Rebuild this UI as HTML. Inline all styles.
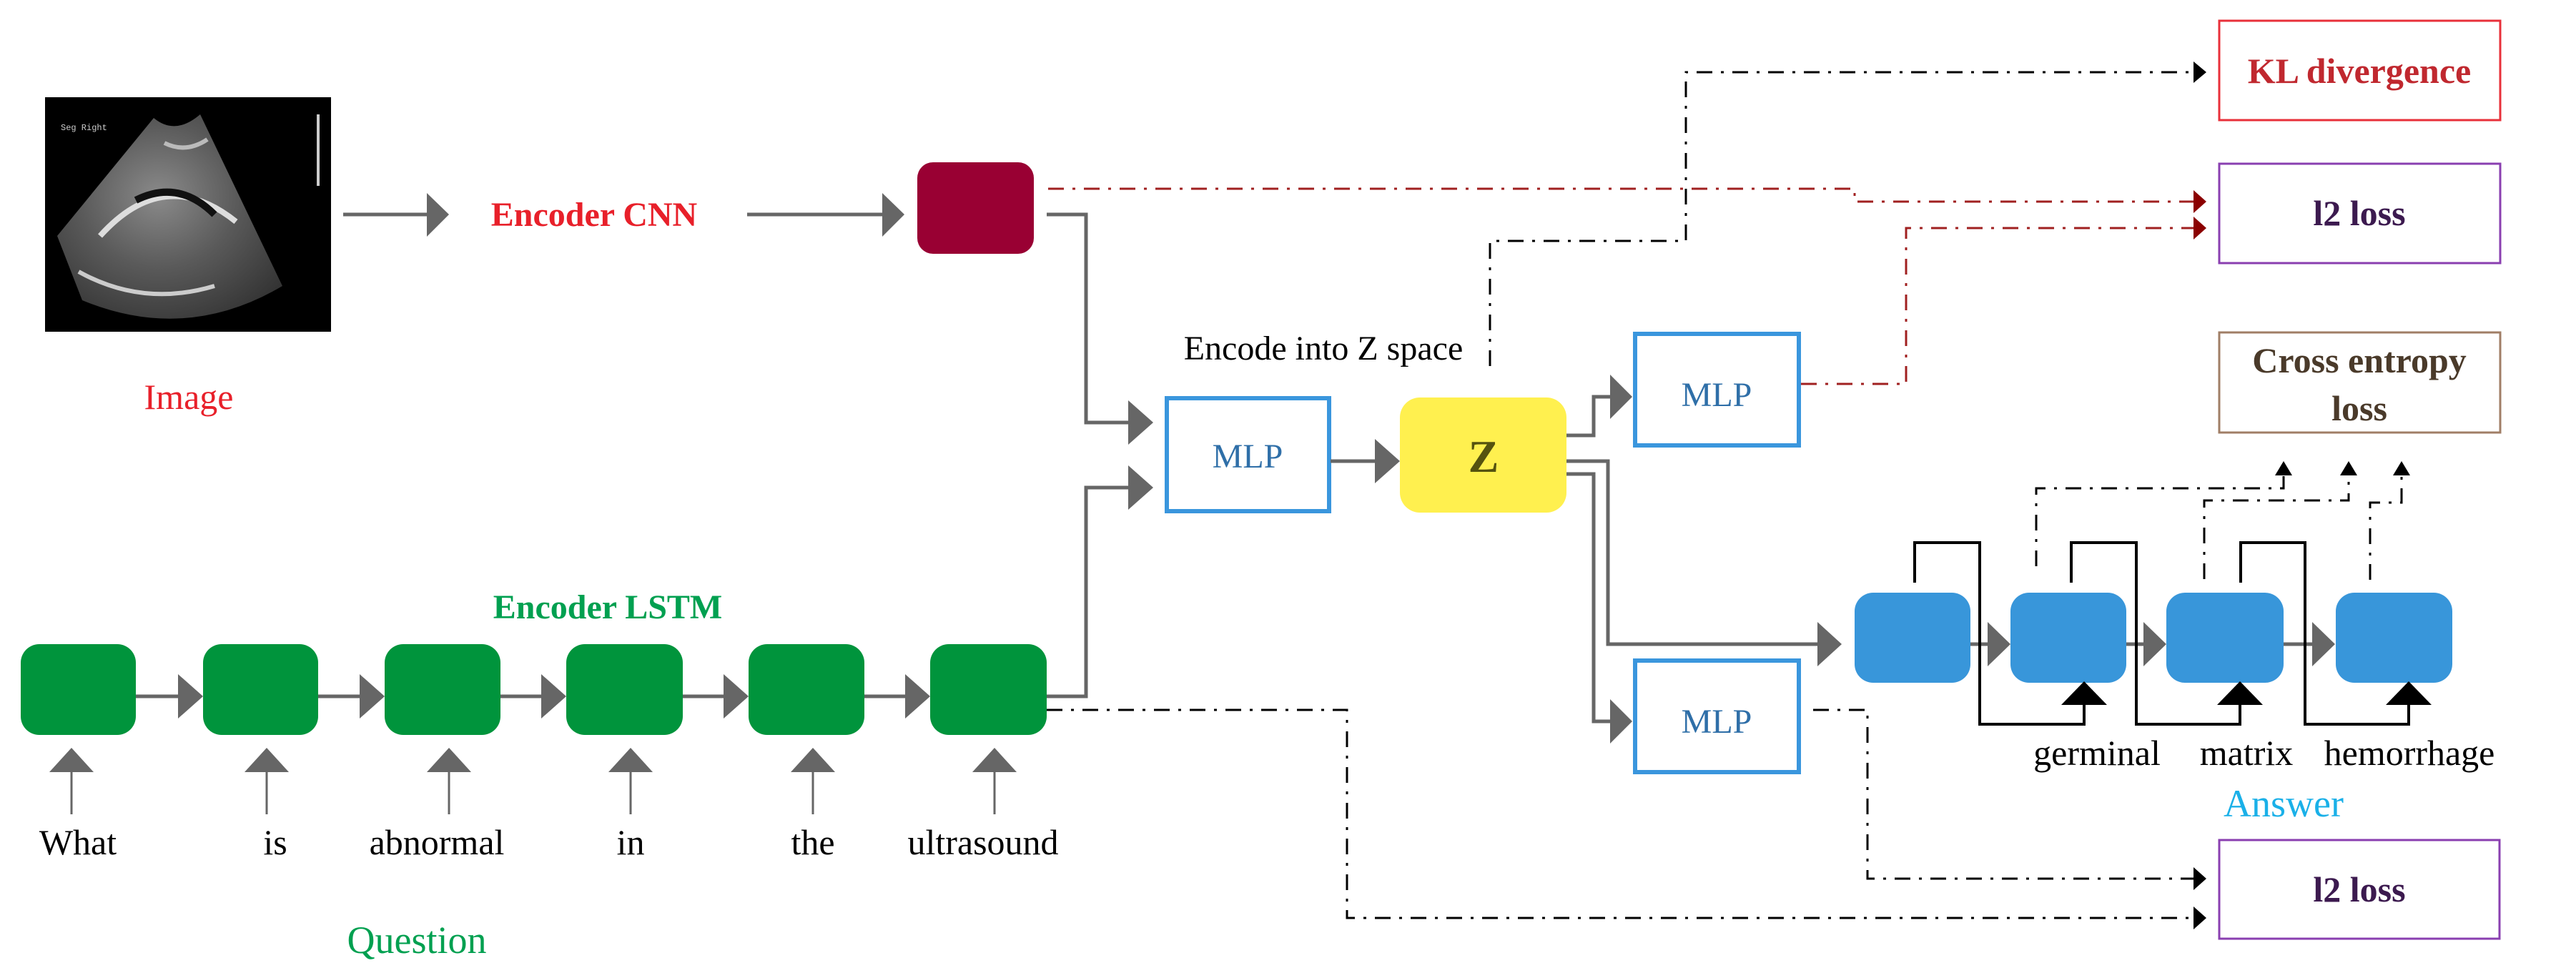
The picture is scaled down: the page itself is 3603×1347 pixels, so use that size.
<!DOCTYPE html>
<html><head><meta charset="utf-8"><style>
html,body{margin:0;padding:0;background:#fff}
svg{display:block}
</style></head><body>
<svg width="3603" height="1347" viewBox="0 0 3603 1347" xmlns="http://www.w3.org/2000/svg" font-family="'Liberation Serif', 'Times New Roman', serif" style="font-family:'Liberation Serif','Times New Roman',serif">
<defs>
<radialGradient id="us" cx="0.45" cy="0.4" r="0.7">
<stop offset="0" stop-color="#8a8a8a"/><stop offset="0.5" stop-color="#5a5a5a"/><stop offset="1" stop-color="#333"/>
</radialGradient>
</defs>
<!-- ultrasound image -->
<rect x="63" y="136" width="400" height="328" fill="#000"/>
<path d="M215,165 Q245,190 280,160 L395,400 Q260,480 115,420 L80,330 Z" fill="url(#us)"/>
<path d="M140,330 Q230,230 330,310" stroke="#ddd" stroke-width="8" fill="none"/>
<path d="M190,280 Q250,250 300,300" stroke="#111" stroke-width="10" fill="none"/>
<path d="M110,380 Q200,430 300,400" stroke="#ccc" stroke-width="6" fill="none"/>
<path d="M230,200 Q260,215 290,195" stroke="#bbb" stroke-width="6" fill="none"/>
<text x="85" y="182" font-size="12" fill="#ccc" font-family="Liberation Mono">Seg  Right</text>
<rect x="443" y="160" width="4" height="100" fill="#ccc"/>
<text x="264" y="572" font-size="50" fill="#e8202a" text-anchor="middle">Image</text>
<!-- arrow image -> encoder -->
<line x1="480" y1="300" x2="600" y2="300" stroke="#666" stroke-width="5"/>
<path d="M597,270 L628,300 L597,331 Z" fill="#666"/>
<text x="831" y="316" font-size="48" font-weight="bold" fill="#e8202a" text-anchor="middle">Encoder CNN</text>
<line x1="1045" y1="300" x2="1238" y2="300" stroke="#666" stroke-width="5"/>
<path d="M1234,270 L1265,300 L1234,331 Z" fill="#666"/>
<rect x="1283" y="227" width="163" height="128" rx="22" fill="#990033"/>
<polyline points="1464,300 1519,300 1519,591 1582,591" fill="none" stroke="#666" stroke-width="5"/>
<path d="M1578,560 L1613,591 L1578,622 Z" fill="#666"/>
<polyline points="1464,974 1519,974 1519,682 1582,682" fill="none" stroke="#666" stroke-width="5"/>
<path d="M1578,651 L1613,682 L1578,713 Z" fill="#666"/>
<rect x="1632" y="557" width="227" height="158" fill="#fff" stroke="#3a96dd" stroke-width="6"/>
<text x="1745" y="654" font-size="48" fill="#2f6fa8" text-anchor="middle">MLP</text>
<text x="1851" y="503" font-size="48" fill="#000" text-anchor="middle">Encode into Z space</text>
<line x1="1861" y1="645" x2="1927" y2="645" stroke="#666" stroke-width="5"/>
<path d="M1923,614 L1958,645 L1923,676 Z" fill="#666"/>
<rect x="1958" y="556" width="233" height="161" rx="28" fill="#fff04f"/>
<text x="2075" y="660" font-size="64" font-weight="bold" fill="#55520f" text-anchor="middle">Z</text>
<polyline points="2191,609 2229,609 2229,555 2256,555" fill="none" stroke="#666" stroke-width="5"/>
<path d="M2252,524 L2283,555 L2252,586 Z" fill="#666"/>
<rect x="2287" y="467" width="229" height="156" fill="#fff" stroke="#3a96dd" stroke-width="6"/>
<text x="2401" y="568" font-size="48" fill="#2f6fa8" text-anchor="middle">MLP</text>
<polyline points="2191,645 2249,645 2249,901 2546,901" fill="none" stroke="#666" stroke-width="5"/>
<path d="M2542,870 L2576,901 L2542,932 Z" fill="#666"/>
<polyline points="2191,663 2229,663 2229,1009 2256,1009" fill="none" stroke="#666" stroke-width="5"/>
<path d="M2252,978 L2283,1009 L2252,1040 Z" fill="#666"/>
<rect x="2287" y="924" width="229" height="156" fill="#fff" stroke="#3a96dd" stroke-width="6"/>
<text x="2401" y="1025" font-size="48" fill="#2f6fa8" text-anchor="middle">MLP</text>
<rect x="3104" y="29" width="393" height="139" fill="#fff" stroke="#e8303a" stroke-width="3"/>
<text x="3300" y="116" font-size="50" font-weight="bold" fill="#c0282f" text-anchor="middle">KL divergence</text>
<rect x="3104" y="229" width="393" height="139" fill="#fff" stroke="#8a3fb0" stroke-width="3"/>
<text x="3300" y="315" font-size="50" font-weight="bold" fill="#3c1a4f" text-anchor="middle">l2 loss</text>
<rect x="3104" y="465" width="393" height="140" fill="#fff" stroke="#a07e66" stroke-width="3"/>
<text x="3300" y="521" font-size="50" font-weight="bold" fill="#4a3a2a" text-anchor="middle">Cross entropy</text>
<text x="3300" y="588" font-size="50" font-weight="bold" fill="#4a3a2a" text-anchor="middle">loss</text>
<rect x="3104" y="1175" width="392" height="138" fill="#fff" stroke="#8a3fb0" stroke-width="3"/>
<text x="3300" y="1261" font-size="50" font-weight="bold" fill="#3c1a4f" text-anchor="middle">l2 loss</text>
<g fill="none" stroke-width="3" stroke-dasharray="22,12,4,12">
<polyline points="2084,512 2084,337 2358,337 2358,101 3070,101" stroke="#000"/>
<polyline points="1466,264 2594,264 2594,282 3070,282" stroke="#a02020"/>
<polyline points="2519,537 2666,537 2666,319 3070,319" stroke="#a02020"/>
<polyline points="2536,993 2612,993 2612,1229 3070,1229" stroke="#000"/>
<polyline points="1464,993 1884,993 1884,1284 3070,1284" stroke="#000"/>
<polyline points="2848,792 2848,683 3194,683 3194,665" stroke="#000"/>
<polyline points="3083,810 3083,700 3285,700 3285,665" stroke="#000"/>
<polyline points="3315,811 3315,703 3359,703 3359,665" stroke="#000"/>
</g>
<path d="M3068,86 L3086,101 L3068,116 Z" fill="#000"/>
<path d="M3068,266 L3086,282 L3068,298 Z" fill="#8b0000"/>
<path d="M3068,303 L3086,319 L3068,335 Z" fill="#8b0000"/>
<path d="M3068,1213 L3086,1229 L3068,1245 Z" fill="#000"/>
<path d="M3068,1268 L3086,1284 L3068,1300 Z" fill="#000"/>
<path d="M3182,665 L3194,645 L3206,665 Z" fill="#000"/>
<path d="M3273,665 L3285,645 L3297,665 Z" fill="#000"/>
<path d="M3347,665 L3359,645 L3371,665 Z" fill="#000"/>
<g stroke="#666" stroke-width="5">
<line x1="2755" y1="901" x2="2786" y2="901"/><line x1="2973" y1="901" x2="3004" y2="901"/><line x1="3194" y1="901" x2="3240" y2="901"/>
</g>
<path d="M2780,870 L2812,901 L2780,932 Z" fill="#666"/>
<path d="M2998,870 L3030,901 L2998,932 Z" fill="#666"/>
<path d="M3234,870 L3266,901 L3234,932 Z" fill="#666"/>
<g fill="#3896da">
<rect x="2594" y="829" width="162" height="126" rx="26"/>
<rect x="2812" y="829" width="162" height="126" rx="26"/>
<rect x="3030" y="829" width="164" height="126" rx="26"/>
<rect x="3267" y="829" width="163" height="126" rx="26"/>
</g>
<g fill="none" stroke="#000" stroke-width="4">
<polyline points="2678,815 2678,759 2769,759 2769,1013 2915,1013 2915,984"/>
<polyline points="2897,815 2897,759 2988,759 2988,1013 3133,1013 3133,984"/>
<polyline points="3134,815 3134,759 3224,759 3224,1013 3369,1013 3369,984"/>
</g>
<path d="M2883,986 L2915,953 L2947,986 Z" fill="#000"/>
<path d="M3101,986 L3133,953 L3165,986 Z" fill="#000"/>
<path d="M3337,986 L3369,953 L3401,986 Z" fill="#000"/>
<g font-size="50" fill="#000" text-anchor="middle">
<text x="2933" y="1070">germinal</text>
<text x="3142" y="1070">matrix</text>
<text x="3370" y="1070">hemorrhage</text>
</g>
<text x="3194" y="1142" font-size="54" fill="#1ab0e8" text-anchor="middle">Answer</text>
<text x="850" y="865" font-size="48" font-weight="bold" fill="#00a050" text-anchor="middle">Encoder LSTM</text>
<g stroke="#666" stroke-width="5">
<line x1="189" y1="974" x2="254" y2="974"/><line x1="445" y1="974" x2="508" y2="974"/><line x1="700" y1="974" x2="762" y2="974"/><line x1="955" y1="974" x2="1017" y2="974"/><line x1="1209" y1="974" x2="1271" y2="974"/>
</g>
<g fill="#666">
<path d="M249,943 L284,974 L249,1005 Z"/><path d="M503,943 L538,974 L503,1005 Z"/><path d="M757,943 L792,974 L757,1005 Z"/><path d="M1012,943 L1047,974 L1012,1005 Z"/><path d="M1266,943 L1301,974 L1266,1005 Z"/>
</g>
<g fill="#00943c">
<rect x="29" y="901" width="161" height="127" rx="26"/>
<rect x="284" y="901" width="161" height="127" rx="26"/>
<rect x="538" y="901" width="162" height="127" rx="26"/>
<rect x="792" y="901" width="163" height="127" rx="26"/>
<rect x="1047" y="901" width="162" height="127" rx="26"/>
<rect x="1301" y="901" width="163" height="127" rx="26"/>
</g>
<g stroke="#666" stroke-width="3">
<line x1="100" y1="1075" x2="100" y2="1139"/><line x1="373" y1="1075" x2="373" y2="1139"/><line x1="628" y1="1075" x2="628" y2="1139"/><line x1="882" y1="1075" x2="882" y2="1139"/><line x1="1137" y1="1075" x2="1137" y2="1139"/><line x1="1391" y1="1075" x2="1391" y2="1139"/>
</g>
<g fill="#666">
<path d="M69,1080 L100,1046 L131,1080 Z"/><path d="M342,1080 L373,1046 L404,1080 Z"/><path d="M597,1080 L628,1046 L659,1080 Z"/><path d="M851,1080 L882,1046 L913,1080 Z"/><path d="M1106,1080 L1137,1046 L1168,1080 Z"/><path d="M1360,1080 L1391,1046 L1422,1080 Z"/>
</g>
<g font-size="50" fill="#000" text-anchor="middle">
<text x="109" y="1195">What</text>
<text x="385" y="1195">is</text>
<text x="611" y="1195">abnormal</text>
<text x="882" y="1195">in</text>
<text x="1137" y="1195">the</text>
<text x="1375" y="1195">ultrasound</text>
</g>
<text x="583" y="1333" font-size="54" fill="#00a050" text-anchor="middle">Question</text>
</svg>
</body></html>
